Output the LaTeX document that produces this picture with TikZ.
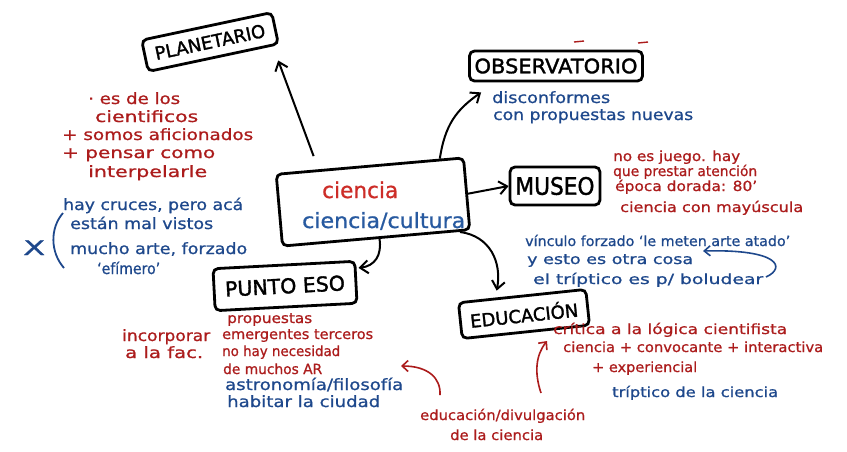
\documentclass[tikz,border=0pt]{standalone}
\usepackage{fontspec}
\setmainfont{DejaVu Sans}[FakeBold=0.8]
\newfontfamily\lab{DejaVu Sans}[FakeBold=1.6]
\usetikzlibrary{arrows.meta,calc}
\definecolor{rd}{RGB}{172,28,28}
\definecolor{bl}{RGB}{30,72,140}
\definecolor{rdc}{RGB}{205,45,40}
\definecolor{blc}{RGB}{40,90,160}
\newcommand{\hw}[2]{\resizebox{#1pt}{\height}{#2}}
\begin{document}
\begin{tikzpicture}[x=1pt,y=-1pt,
  box/.style={draw, line width=2.8pt, rounded corners=5pt, inner sep=0pt},
  arr/.style={line width=2pt, -{Straight Barb[length=8pt,width=13pt,line width=2pt]}},
  rarr/.style={draw=rd, line width=1.6pt, -{Straight Barb[length=6pt,width=11pt,line width=1.6pt]}},
  barr/.style={draw=bl, line width=1.6pt, -{Straight Barb[length=6pt,width=10pt,line width=1.6pt]}},
  rt/.style={anchor=base west, inner sep=0pt, text=rd, font=\fontsize{15.5}{17}\selectfont},
  bt/.style={rt, text=bl},
  rs/.style={rt, font=\fontsize{14}{16}\selectfont},
  bs/.style={bt, font=\fontsize{14}{16}\selectfont},
]
\useasboundingbox (0,0) rectangle (847,451);
\fill[white] (0,0) rectangle (847,451);

% boxes
\node[box, rotate=5, minimum width=188pt, minimum height=72pt] (c) at (373,202) {};
\node[anchor=base west, inner sep=0pt, text=rdc, font=\fontsize{22}{24}\selectfont] (c1) at (322,198) {\hw{76}{ciencia}};
\node[anchor=base west, inner sep=0pt, text=blc, font=\fontsize{21}{23}\selectfont] (c2) at (302,228) {\hw{163}{ciencia/cultura}};

\node[box, rotate=12, minimum width=133pt, minimum height=32pt, font=\lab\fontsize{18}{20}\selectfont] (pl) at (210,42) {PLANETARIO};
\node[box, minimum width=173pt, minimum height=30pt, font=\lab\fontsize{20}{22}\selectfont] (ob) at (556,66) {\hw{163}{OBSERVATORIO}};
\node[box, minimum width=90pt, minimum height=38pt, font=\lab\fontsize{24}{26}\selectfont] (mu) at (555,186) {\hw{79}{MUSEO}};
\node[box, rotate=3, minimum width=142pt, minimum height=42pt, font=\lab\fontsize{20.5}{22}\selectfont] (pe) at (285,286) {PUNTO ESO};
\node[box, rotate=6, minimum width=128pt, minimum height=36pt, font=\lab\fontsize{18}{20}\selectfont] (ed) at (524,314) {EDUCACIÓN};

% connectors
\draw[arr, shorten <=14pt, shorten >=15pt] (c.144) -- (pl.-16);
\draw[arr] (c.28) .. controls (445,125) and (456,110) .. ($(ob.south west)+(13,10)$);
\draw[arr] (c.east) -- (mu.west);
\draw[arr, shorten >=7pt] (c.-24) .. controls (490,236) and (502,262) .. (ed.144);
\draw[arr, shorten >=2pt] (c.-85) .. controls (382,255) and (375,266) .. (pe.11);

% left red block
\node[rt] (t1) at (88,104) {\hw{92}{· es de los}};
\node[rt] (t2) at (95,122) {\hw{103}{cientificos}};
\node[rt] (t3) at (62,140) {\hw{191}{+ somos aficionados}};
\node[rt] (t4) at (62,158) {\hw{153}{+ pensar como}};
\node[rt] (t5) at (88,177) {\hw{119}{interpelarle}};

% left blue block
\node[bt] (t6) at (63,210) {\hw{180}{hay cruces, pero acá}};
\node[bt] (t7) at (70,229) {\hw{143}{están mal vistos}};
\node[bt] (t8) at (70,254) {\hw{177}{mucho arte, forzado}};
\node[bt] (t9) at (97,274) {\hw{63}{‘efímero’}};
\draw[bl, line width=1.8pt] (t6.base west) ++(0,3) coordinate (bra) .. controls (50,228) and (50,252) .. (64,268) coordinate (brb);
\node[anchor=base west, inner sep=0pt, text=bl, font=\fontsize{20}{22}\selectfont] (x) at (23,255) {\hw{22}{X}};

% observatorio
\node[bt] (t10) at (492,103) {\hw{118}{disconformes}};
\node[bt] (t11) at (493,120) {\hw{200}{con propuestas nuevas}};
\draw[rd, line width=1.4pt] (574,42) -- (584,41);
\draw[rd, line width=1.4pt] (638,43) -- (648,42);

% museo
\node[rs] (t12) at (613,161) {\hw{127}{no es juego. hay}};
\node[rs] (t13) at (613,176) {\hw{144}{que prestar atención}};
\node[rs] (t14) at (615,191) {\hw{142}{época dorada: 80'}};
\node[rs] (t15) at (620,212) {\hw{183}{ciencia con mayúscula}};
\node[bs] (t16) at (525,246) {\hw{265}{vínculo forzado ‘le meten arte atado’}};
\node[bs] (t17) at (527,264) {\hw{166}{y esto es otra cosa}};
\node[bs] (t18) at (533,284) {\hw{230}{el tríptico es p/ boludear}};
\coordinate (ba) at (766,277);
\coordinate (bb) at (703,251);
\draw[barr] (ba) .. controls (786,268) and (780,249) .. (bb);

% punto eso
\node[rt] (t19) at (122,341) {\hw{88}{incorporar}};
\node[rt] (t20) at (125,358) {\hw{78}{a la fac.}};
\node[rs] (t21) at (227,323) {\hw{85}{propuestas}};
\node[rs] (t22) at (222,339) {\hw{151}{emergentes terceros}};
\node[rs] (t23) at (222,356) {\hw{118}{no hay necesidad}};
\node[rs] (t24) at (223,374) {\hw{99}{de muchos AR}};
\node[bt] (t25) at (225,390) {\hw{178}{astronomía/filosofía}};
\node[bt] (t26) at (227,407) {\hw{153}{habitar la ciudad}};

% educacion
\node[rs] (t27) at (553,334) {\hw{234}{crítica a la lógica cientifista}};
\node[rs] (t28) at (563,352) {\hw{260}{ciencia + convocante + interactiva}};
\node[rs] (t29) at (592,372) {\hw{105}{+ experiencial}};
\node[bs] (t30) at (612,397) {\hw{166}{tríptico de la ciencia}};
\node[rs] (t31) at (420,420) {\hw{165}{educación/divulgación}};
\node[rs] (t32) at (450,440) {\hw{93}{de la ciencia}};

\coordinate (ra1) at (440,395);
\coordinate (ra1t) at (401,366);
\draw[rarr] (ra1) .. controls (441,378) and (428,366) .. (ra1t);
\coordinate (ra2) at (541,393);
\coordinate (ra2t) at (547,341);
\draw[rarr] (ra2) .. controls (534,372) and (536,355) .. (ra2t);
\end{tikzpicture}
\end{document}
